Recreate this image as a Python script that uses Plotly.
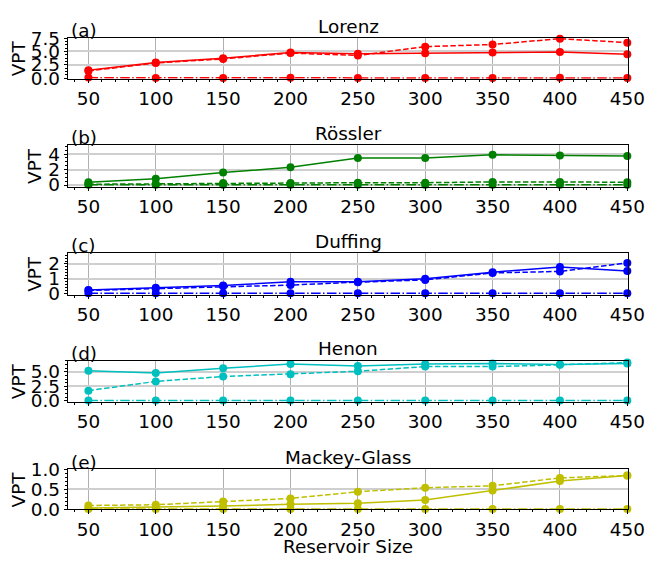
import plotly.graph_objects as go

# Reservoir sizes on the shared x axis
reservoir_sizes = [50, 100, 150, 200, 250, 300, 350, 400, 450]

# VPT for each system: three configurations per panel
lorenz_solid = [1.5, 2.95, 3.75, 4.8, 4.55, 4.65, 4.8, 4.9, 4.5]
lorenz_dashed = [1.35, 2.85, 3.6, 4.7, 4.25, 5.9, 6.3, 7.4, 6.65]
lorenz_dashdot = [0.1, 0.05, 0.05, 0.06, 0.05, 0.05, 0.05, 0.06, 0.05]

rossler_solid = [0.35, 0.8, 1.6, 2.3, 3.5, 3.5, 3.9, 3.8, 3.75]
rossler_dashed = [0.1, 0.15, 0.25, 0.27, 0.3, 0.3, 0.4, 0.4, 0.35]
rossler_dashdot = [0.02, 0.02, 0.02, 0.02, 0.02, 0.02, 0.02, 0.02, 0.02]

duffing_solid = [0.25, 0.4, 0.55, 0.8, 0.8, 1.0, 1.45, 1.8, 1.53]
duffing_dashed = [0.22, 0.35, 0.5, 0.58, 0.78, 0.93, 1.4, 1.5, 2.07]
duffing_dashdot = [0.03, 0.03, 0.03, 0.03, 0.03, 0.03, 0.03, 0.03, 0.03]

henon_solid = [5.2, 4.8, 5.6, 6.35, 6.0, 6.35, 6.45, 6.25, 6.45]
henon_dashed = [1.75, 3.35, 4.2, 4.6, 5.1, 5.9, 5.9, 6.2, 6.6]
henon_dashdot = [0.05, 0.05, 0.05, 0.05, 0.05, 0.05, 0.05, 0.05, 0.05]

mackey_solid = [0.03, 0.05, 0.08, 0.12, 0.15, 0.23, 0.47, 0.71, 0.85]
mackey_dashed = [0.09, 0.11, 0.19, 0.27, 0.44, 0.54, 0.59, 0.79, 0.85]
mackey_dashdot = [0.005, 0.005, 0.005, 0.005, 0.005, 0.005, 0.005, 0.005, 0.005]

system_names = ["Lorenz", "Rössler", "Duffing", "Henon", "Mackey-Glass"]
panel_tags = ["(a)", "(b)", "(c)", "(d)", "(e)"]
y_ticks = [
    [0.0, 2.5, 5.0, 7.5],
    [0, 2, 4],
    [0, 1, 2],
    [0.0, 2.5, 5.0],
    [0.0, 0.5, 1.0],
]
y_tick_text = [
    ["0.0", "2.5", "5.0", "7.5"],
    ["0", "2", "4"],
    ["0", "1", "2"],
    ["0.0", "2.5", "5.0"],
    ["0.0", "0.5", "1.0"],
]
x_ticks = [50, 100, 150, 200, 250, 300, 350, 400, 450]

series = [
    (lorenz_solid, lorenz_dashed, lorenz_dashdot),
    (rossler_solid, rossler_dashed, rossler_dashdot),
    (duffing_solid, duffing_dashed, duffing_dashdot),
    (henon_solid, henon_dashed, henon_dashdot),
    (mackey_solid, mackey_dashed, mackey_dashdot),
]

# Layout constants (pixels)
W, H = 663, 568
colors = ["#ff0000", "#008000", "#0000ff", "#00bfbf", "#bfbf00"]
y_ranges = [[-0.12, 7.58], [-0.2, 5.16], [-0.06, 2.75], [-0.15, 6.95], [-0.01, 1.01]]
y_minor = [0.625, 0.5, 0.2, 0.625, 0.1]
panel_px = [(28.7, 71.3), (140.0, 183.0), (251.7, 295.0), (363.3, 406.0), (476.0, 517.7)]
ylabel_x = [18.5, 36, 36, 18.5, 18.5]
left_px, right_px = 70.0, 644.5

FONT = "DejaVu Sans"
FS = 18.4
dash_styles = ["solid", "5.5px,2.4px", "9.6px,2.4px,1.5px,2.4px"]

fig = go.Figure()
annotations = []
layout_axes = {}

for i in range(5):
    n = i + 1
    xa = "x" if n == 1 else f"x{n}"
    ya = "y" if n == 1 else f"y{n}"
    for vals, dash in zip(series[i], dash_styles):
        fig.add_trace(go.Scatter(
            x=reservoir_sizes, y=vals, xaxis=xa, yaxis=ya,
            mode="lines+markers",
            line=dict(color=colors[i], width=1.5, dash=dash),
            marker=dict(color=colors[i], size=8, symbol="circle"),
            showlegend=False, cliponaxis=False,
        ))

    top, bot = panel_px[i]
    dom_y = [1 - bot / H, 1 - top / H]
    axis_common = dict(
        showline=True, mirror=True, linecolor="black", linewidth=1,
        ticks="outside", ticklen=3.5, tickwidth=0.8, tickcolor="black",
        showgrid=True, zeroline=False,
        tickfont=dict(family=FONT, size=FS, color="black"),
    )
    layout_axes[f"xaxis{n}"] = dict(
        axis_common, domain=[left_px / W, right_px / W], anchor=ya,
        gridcolor="#b0b0b0", gridwidth=0.8,
        range=[35, 450.5], tickmode="array", tickvals=x_ticks,
        minor=dict(dtick=10, tick0=0, ticks="outside", ticklen=2, tickcolor="black",
                   tickwidth=0.6, showgrid=False),
    )
    layout_axes[f"yaxis{n}"] = dict(
        axis_common, domain=dom_y, anchor=xa, range=y_ranges[i],
        gridcolor="#cfcfcf", gridwidth=1.5,
        tickmode="array", tickvals=y_ticks[i], ticktext=y_tick_text[i],
        minor=dict(dtick=y_minor[i], tick0=0, ticks="outside", ticklen=2, tickcolor="black",
                   tickwidth=0.6, showgrid=False),
    )

    # subplot title and panel tag
    annotations.append(dict(
        text=system_names[i], x=(left_px + right_px) / 2 / W, y=1 - (top - 12) / H,
        xref="paper", yref="paper", xanchor="center", yanchor="middle",
        showarrow=False, font=dict(family=FONT, size=FS, color="black"),
    ))
    annotations.append(dict(
        text=panel_tags[i], x=(left_px + 1) / W, y=1 - (top - 7.5) / H,
        xref="paper", yref="paper", xanchor="left", yanchor="middle",
        showarrow=False, font=dict(family=FONT, size=FS, color="black"),
    ))
    annotations.append(dict(
        text="VPT", x=ylabel_x[i] / W, y=1 - (top + bot) / 2 / H,
        xref="paper", yref="paper", xanchor="center", yanchor="middle",
        textangle=-90, showarrow=False, font=dict(family=FONT, size=FS, color="black"),
    ))

annotations.append(dict(
    text="Reservoir Size", x=(left_px + right_px) / 2 / W, y=1 - 556 / H,
    xref="paper", yref="paper", xanchor="center", yanchor="middle",
    showarrow=False, font=dict(family=FONT, size=FS, color="black"),
))

fig.update_layout(
    width=W, height=H,
    margin=dict(l=0, r=0, t=0, b=0),
    paper_bgcolor="white", plot_bgcolor="white",
    font=dict(family=FONT, size=FS, color="black"),
    annotations=annotations,
    showlegend=False,
    **layout_axes,
)

fig.write_html("out.html")
